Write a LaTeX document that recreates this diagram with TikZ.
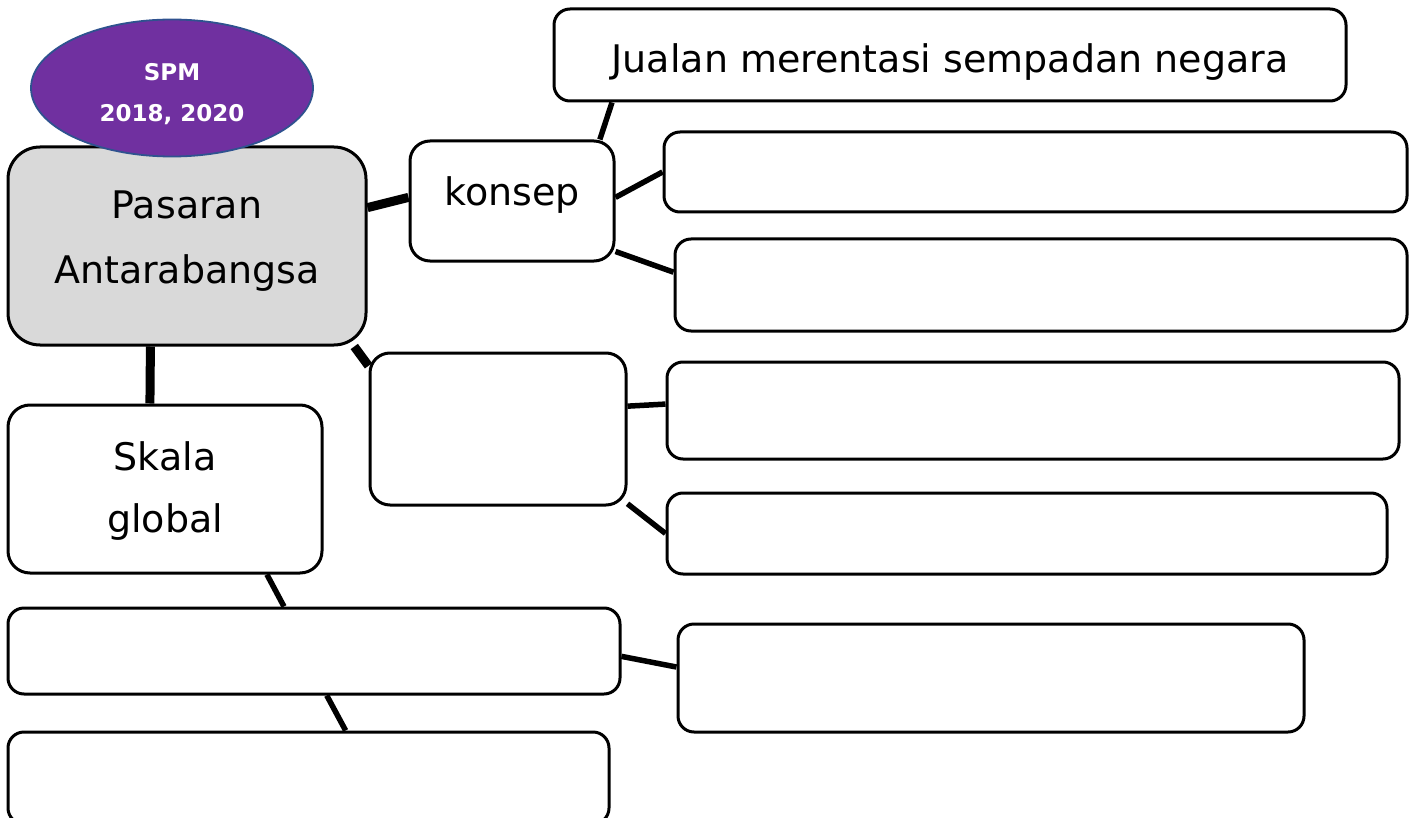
\documentclass[tikz,border=0pt]{standalone}
\usepackage{fontspec}
\setmainfont{DejaVu Sans}
\usetikzlibrary{backgrounds,shapes.geometric}
\definecolor{ellpurple}{HTML}{7030A0}
\definecolor{ellblue}{HTML}{2F528F}
\definecolor{boxgray}{HTML}{D9D9D9}
\newcommand{\boxtext}[3]{\raisebox{#1}[0pt][0pt]{\fontsize{#2}{#3}\selectfont}}
\newcommand{\lines}[2]{\raisebox{#1}[0pt][0pt]{\begin{tabular}[b]{@{}c@{}}#2\end{tabular}}}
\begin{document}
\begin{tikzpicture}[x=1pt,y=-1pt,
  box/.style={draw=black, line width=3pt, fill=white, rounded corners=16pt,
    inner sep=0pt, align=center, font=\fontsize{38}{62}\selectfont},
  biglink/.style={line width=9pt},
  link/.style={line width=5.5pt}]
\useasboundingbox (0,0) rectangle (1420,818);
\clip (0,0) rectangle (1420,818);
% main nodes
\node[box, fill=boxgray, rounded corners=32pt, minimum width=358pt, minimum height=198pt,
  font=\fontsize{38}{65}\selectfont] (pas) at (187,246) {\lines{-37pt}{Pasaran\\Antarabangsa}};
\node[box, rounded corners=20pt, minimum width=204pt, minimum height=120pt] (kon) at (512,201) {\lines{-5pt}{konsep}};
\node[box, minimum width=792pt, minimum height=92pt] (jual) at (950,55) {\lines{-18pt}{Jualan merentasi sempadan negara}};
\node[box, minimum width=743pt, minimum height=80pt] (r1) at (1035.5,172) {};
\node[box, minimum width=732pt, minimum height=92pt] (r2) at (1041,285) {};
\node[box, rounded corners=20pt, minimum width=256pt, minimum height=152pt] (mid) at (498,429) {};
\node[box, minimum width=732pt, minimum height=97pt] (r3) at (1033,410.5) {};
\node[box, minimum width=720pt, minimum height=81pt] (r4) at (1027,533.5) {};
\node[box, rounded corners=22pt, minimum width=314pt, minimum height=168pt] (skala) at (165,489) {\lines{-43pt}{Skala\\global}};
\node[box, minimum width=612pt, minimum height=86pt] (b1) at (314,651) {};
\node[box, minimum width=601pt, minimum height=92pt] (b2) at (308.5,778) {};
\node[box, minimum width=626pt, minimum height=108pt] (r5) at (991,678) {};
% badge
\node[ellipse, draw=ellblue, fill=ellpurple, line width=1.8pt, minimum width=282pt, minimum height=137pt,
  inner sep=0pt, text=white, font=\bfseries\fontsize{23}{41}\selectfont] (spm) at (172,88) {\lines{-34pt}{SPM\\2018, 2020}};
% connectors
\begin{scope}[on background layer]
\draw[biglink] (pas.12) -- (kon.178);
\draw[biglink] (pas.-31.1) -- (mid.154.9);
\draw[biglink] (pas.-110.3) -- (skala.100);
\draw[link] (kon.35.7) -- (jual.188.4);
\draw[link] (kon.2.2) -- (r1.180.9);
\draw[link] (kon.-26.1) -- (r2.178.4);
\draw[link] (mid.10.1) -- (r3.179.3);
\draw[link] (mid.-30.6) -- (r4.180.6);
\draw[link] (skala.-40.1) -- (b1.124.3);
\draw[link] (b1.-74.7) -- (b2.52.2);
\draw[link] (b1.-1.3) -- (r5.178);
\end{scope}
\end{tikzpicture}
\end{document}
